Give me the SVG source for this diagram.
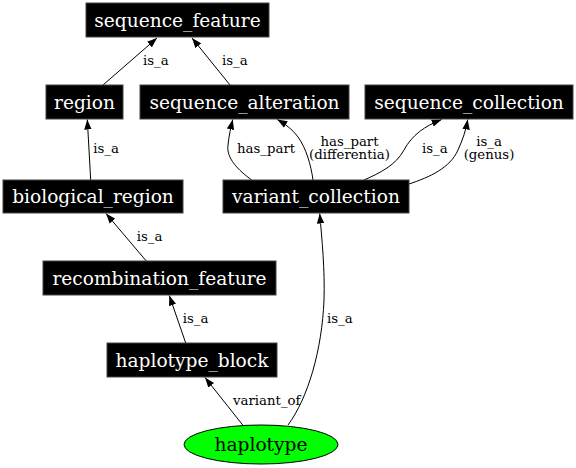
<svg xmlns="http://www.w3.org/2000/svg" width="576" height="468" viewBox="0 0 576 468">
<style>
.box{fill:#000;stroke:#444;stroke-width:1}
.nt{font-family:'DejaVu Serif',serif;font-size:18.6px;fill:#fff;text-anchor:middle}
.et{font-family:'DejaVu Serif',serif;font-size:13.3px;fill:#000}
.e{fill:none;stroke:#000;stroke-width:1;marker-end:url(#ah)}
</style>
<defs>
<marker id="ah" markerUnits="userSpaceOnUse" markerWidth="10" markerHeight="8" refX="10" refY="3.7" orient="auto" viewBox="0 0 10 7.4">
<path d="M0,0 L10,3.7 L0,7.4 z" fill="#000"/>
</marker>
</defs>
<rect width="576" height="468" fill="#fff"/>
<g id="connectors">
<path class="e" d="M103,85 L157,38"/>
<text class="et" x="143" y="65">is_a</text>
<path class="e" d="M230,85 L192,38"/>
<text class="et" x="222" y="65">is_a</text>
<path class="e" d="M90.7,180 L87.3,119.5"/>
<text class="et" x="93.3" y="153.3">is_a</text>
<path class="e" d="M251.7,180 C238,170 226,158 228,145 C229,135 231,127 232.7,119.5"/>
<text class="et" x="237" y="153.3">has_part</text>
<path class="e" d="M313,180 C311,165 306,148 298,137 C292,129 285,124 277.3,119.5"/>
<text class="et" x="349.5" y="145.5" text-anchor="middle">has_part</text>
<text class="et" x="349.5" y="159" text-anchor="middle">(differentia)</text>
<path class="e" d="M364,180 C380,173 396,165 404,150 C412,135 425,126 441.7,119.5"/>
<text class="et" x="422" y="153">is_a</text>
<path class="e" d="M409,184 C430,177 450,168 458,150 C463,139 466,130 467.7,119.5"/>
<text class="et" x="489" y="145.5" text-anchor="middle">is_a</text>
<text class="et" x="489" y="159" text-anchor="middle">(genus)</text>
<path class="e" d="M146.7,261.5 L106,213.5"/>
<text class="et" x="136.7" y="241">is_a</text>
<path class="e" d="M185.7,343 L169.3,295.5"/>
<text class="et" x="182.7" y="323.3">is_a</text>
<path class="e" d="M242.7,425 L205,377.5"/>
<text class="et" x="233" y="405">variant_of</text>
<path class="e" d="M288,425 C308,398 322,350 324,300 C325,270 322,240 319.7,213.5"/>
<text class="et" x="327" y="323.3">is_a</text>
</g>
<g id="sequence_feature"><rect class="box" x="86" y="3" width="183" height="34"/><text class="nt" x="177.5" y="26.5">sequence_feature</text></g>
<g id="region"><rect class="box" x="46" y="85" width="77" height="34"/><text class="nt" x="84.5" y="108.5">region</text></g>
<g id="sequence_alteration"><rect class="box" x="140" y="85" width="209" height="34"/><text class="nt" x="244.5" y="108.5">sequence_alteration</text></g>
<g id="sequence_collection"><rect class="box" x="365" y="85" width="208" height="34"/><text class="nt" x="469" y="108.5">sequence_collection</text></g>
<g id="biological_region"><rect class="box" x="3" y="180" width="180" height="33"/><text class="nt" x="93" y="203">biological_region</text></g>
<g id="variant_collection"><rect class="box" x="223" y="180" width="186" height="33"/><text class="nt" x="316" y="203">variant_collection</text></g>
<g id="recombination_feature"><rect class="box" x="43" y="261" width="233" height="34"/><text class="nt" x="159.5" y="284.5">recombination_feature</text></g>
<g id="haplotype_block"><rect class="box" x="107" y="343" width="170" height="34"/><text class="nt" x="192" y="366.5">haplotype_block</text></g>
<g id="haplotype"><ellipse cx="261" cy="444.5" rx="77" ry="19.5" fill="#00ff00" stroke="#000" stroke-width="1"/><text class="nt" x="261" y="451" style="fill:#000">haplotype</text></g>
</svg>
